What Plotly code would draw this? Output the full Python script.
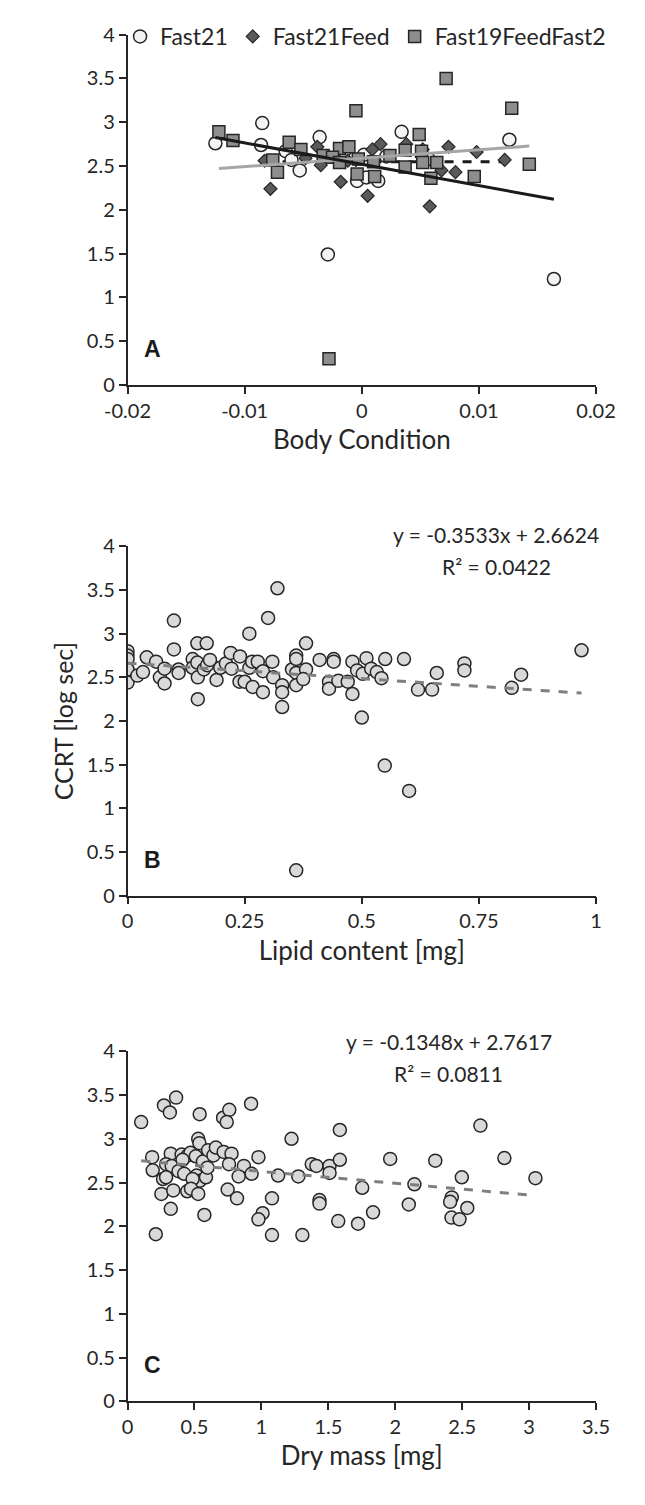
import plotly.graph_objects as go

# ---------------- Panel A data (Body condition vs CCRT) ----------------
fast21_x = [-0.0125, -0.0086, -0.0085, -0.0036, 0.0034, 0.0126, -0.0065, -0.0060, -0.0053,
            -0.0004, 0.0004, 0.0014, -0.0015, 0.0002, 0.0021, 0.0057, -0.0029, 0.0164]
fast21_y = [2.76, 2.74, 2.99, 2.83, 2.89, 2.80, 2.67, 2.57, 2.45,
            2.33, 2.37, 2.33, 2.67, 2.63, 2.61, 2.58, 1.49, 1.21]

feed_x = [-0.0083, -0.0078, -0.0038, -0.0035, -0.0048, -0.0018, 0.0005, 0.0058, 0.0009, 0.0016,
          0.0074, 0.0098, 0.0122, 0.0068, 0.0080, 0.0052, -0.0005, 0.0038, -0.0012]
feed_y = [2.56, 2.24, 2.72, 2.51, 2.59, 2.32, 2.16, 2.04, 2.69, 2.75,
          2.72, 2.66, 2.57, 2.45, 2.43, 2.69, 2.57, 2.75, 2.56]

f19_x = [0.0072, -0.0005, 0.0128, -0.0122, -0.0110, -0.0062, -0.0052, 0.0049, 0.0037, 0.0051,
         -0.0019, -0.0011, -0.0033, -0.0025, -0.0003, 0.0024, -0.0076, -0.0072, -0.0019, -0.0004,
         0.0011, 0.0010, 0.0037, 0.0052, 0.0064, 0.0059, 0.0096, 0.0143, -0.0028]
f19_y = [3.50, 3.13, 3.16, 2.89, 2.79, 2.77, 2.69, 2.86, 2.68, 2.67,
         2.70, 2.72, 2.62, 2.60, 2.58, 2.62, 2.57, 2.43, 2.54, 2.41,
         2.38, 2.55, 2.49, 2.54, 2.54, 2.36, 2.38, 2.52, 0.30]

# trendline coefficients (Fast21, Fast21Feed, Fast19FeedFast2)
trend_a_slope = [-24.4, 0.0, 9.6]
trend_a_intercept = [2.52, 2.55, 2.59]

# ---------------- Panel B data (Lipid content vs CCRT) ----------------
lipid_x = [0, 0, 0, 0, 0, 0.021, 0.033, 0.041, 0.061, 0.069, 0.079, 0.079,
           0.099, 0.099, 0.109, 0.109, 0.139, 0.139, 0.149, 0.149, 0.150, 0.150,
           0.169, 0.163, 0.170, 0.176, 0.190, 0.198, 0.210, 0.220, 0.222, 0.240, 0.239, 0.250,
           0.260, 0.260, 0.266, 0.267, 0.278, 0.289, 0.300, 0.289, 0.309, 0.311, 0.320,
           0.330, 0.330, 0.330, 0.351, 0.360, 0.360, 0.360, 0.360, 0.360,
           0.381, 0.381, 0.375, 0.410, 0.440, 0.440, 0.480, 0.510, 0.550, 0.590,
           0.490, 0.502, 0.520, 0.532, 0.542, 0.430, 0.430, 0.450, 0.470, 0.480,
           0.620, 0.650, 0.660, 0.719, 0.719, 0.820, 0.840, 0.969,
           0.500, 0.549, 0.601]
lipid_y = [2.80, 2.75, 2.71, 2.59, 2.44, 2.52, 2.56, 2.73, 2.68, 2.50, 2.60, 2.43,
           3.15, 2.82, 2.59, 2.55, 2.71, 2.61, 2.89, 2.67, 2.50, 2.25,
           2.89, 2.59, 2.64, 2.70, 2.47, 2.61, 2.66, 2.78, 2.60, 2.74, 2.45, 2.45,
           3.00, 2.61, 2.68, 2.39, 2.68, 2.33, 3.18, 2.57, 2.68, 2.50, 3.52,
           2.41, 2.33, 2.16, 2.59, 2.75, 2.71, 2.55, 2.41, 0.29,
           2.89, 2.59, 2.48, 2.70, 2.71, 2.68, 2.68, 2.72, 2.71, 2.71,
           2.58, 2.54, 2.60, 2.56, 2.49, 2.45, 2.37, 2.46, 2.45, 2.31,
           2.36, 2.36, 2.55, 2.66, 2.58, 2.38, 2.53, 2.81,
           2.04, 1.49, 1.20]
trend_b_slope = -0.3533
trend_b_intercept = 2.6624

# ---------------- Panel C data (Dry mass vs CCRT) ----------------
dry_x = [0.102, 0.272, 0.316, 0.363, 0.539, 0.714, 0.760, 0.741, 0.923,
         0.528, 0.537, 1.225,
         0.184, 0.188, 0.323, 0.404, 0.451, 0.470, 0.510, 0.563, 0.602, 0.642, 0.660, 0.718,
         0.777, 0.758, 0.869, 0.978, 0.927, 0.830,
         0.288, 0.330, 0.381, 0.423, 0.411, 0.516, 0.539, 0.586, 0.597,
         0.265, 0.288, 0.486, 0.253, 0.342, 0.446, 0.474, 0.528, 0.323, 0.574, 0.748, 0.818,
         1.125, 1.276, 1.079, 1.009, 0.978, 0.211, 1.079, 1.306,
         1.586, 2.636, 1.376, 1.411, 1.509, 1.509, 1.586, 1.962, 2.299, 2.815, 1.753, 2.143,
         2.497, 3.047, 1.434, 1.434, 2.101, 2.422, 2.410, 2.538, 2.420, 2.480, 1.834, 1.574, 1.722]
dry_y = [3.19, 3.38, 3.30, 3.47, 3.28, 3.24, 3.33, 3.19, 3.40,
         3.00, 2.95, 3.00,
         2.79, 2.64, 2.83, 2.82, 2.81, 2.84, 2.80, 2.74, 2.87, 2.81, 2.90, 2.85,
         2.83, 2.71, 2.69, 2.79, 2.60, 2.57,
         2.71, 2.69, 2.63, 2.60, 2.76, 2.58, 2.52, 2.56, 2.67,
         2.54, 2.56, 2.54, 2.37, 2.41, 2.40, 2.43, 2.37, 2.20, 2.13, 2.42, 2.32,
         2.58, 2.57, 2.32, 2.15, 2.08, 1.91, 1.90, 1.90,
         3.10, 3.15, 2.71, 2.69, 2.69, 2.61, 2.76, 2.77, 2.75, 2.78, 2.44, 2.48,
         2.56, 2.55, 2.30, 2.26, 2.25, 2.33, 2.28, 2.21, 2.10, 2.08, 2.16, 2.06, 2.03]
trend_c_slope = -0.1348
trend_c_intercept = 2.7617
trend_b_r2 = "0.0422"
trend_c_r2 = "0.0811"

y_ticks = [0, 0.5, 1, 1.5, 2, 2.5, 3, 3.5, 4]
y_tick_text = ["0", "0.5", "1", "1.5", "2", "2.5", "3", "3.5", "4"]
xa_ticks = [-0.02, -0.01, 0, 0.01, 0.02]
xa_tick_text = ["-0.02", "-0.01", "0", "0.01", "0.02"]
xb_ticks = [0, 0.25, 0.5, 0.75, 1]
xb_tick_text = ["0", "0.25", "0.5", "0.75", "1"]
xc_ticks = [0, 0.5, 1, 1.5, 2, 2.5, 3, 3.5]
xc_tick_text = ["0", "0.5", "1", "1.5", "2", "2.5", "3", "3.5"]

W, H = 645, 1505
FONT = "Lato"
DARK = "#262626"


def line_pts(xs, slope, intercept):
    lo, hi = min(xs), max(xs)
    return [lo, hi], [slope * lo + intercept, slope * hi + intercept]


fig = go.Figure()

# --- Panel A: dashed trend for Fast21Feed drawn under markers
lx, ly = line_pts(feed_x, trend_a_slope[1], trend_a_intercept[1])
fig.add_trace(go.Scatter(x=lx, y=ly, mode="lines", showlegend=False, hoverinfo="skip",
                         line=dict(color="#1a1a1a", width=3, dash="dash"),
                         xaxis="x", yaxis="y"))

fig.add_trace(go.Scatter(x=fast21_x, y=fast21_y, mode="markers", name="Fast21",
                         marker=dict(symbol="circle", size=13, color="#f4f4f4",
                                     line=dict(color=DARK, width=1.5)),
                         xaxis="x", yaxis="y"))
fig.add_trace(go.Scatter(x=feed_x, y=feed_y, mode="markers", name="Fast21Feed",
                         marker=dict(symbol="diamond", size=10, color="#5a5a5a",
                                     line=dict(color=DARK, width=1.2)),
                         xaxis="x", yaxis="y"))
fig.add_trace(go.Scatter(x=f19_x, y=f19_y, mode="markers", name="Fast19FeedFast2",
                         marker=dict(symbol="square", size=12, color="#8e8e8e",
                                     line=dict(color=DARK, width=1.5)),
                         xaxis="x", yaxis="y"))

for xs, slope, icpt, col in [(f19_x, trend_a_slope[2], trend_a_intercept[2], "#a6a6a6"),
                             (fast21_x, trend_a_slope[0], trend_a_intercept[0], "#1a1a1a")]:
    lx, ly = line_pts(xs, slope, icpt)
    fig.add_trace(go.Scatter(x=lx, y=ly, mode="lines", showlegend=False, hoverinfo="skip",
                             line=dict(color=col, width=3), xaxis="x", yaxis="y"))

# --- Panel B
fig.add_trace(go.Scatter(x=lipid_x, y=lipid_y, mode="markers", showlegend=False,
                         marker=dict(symbol="circle", size=13, color="#d9d9d9",
                                     line=dict(color=DARK, width=1.5)),
                         xaxis="x2", yaxis="y2"))
lx, ly = line_pts(lipid_x, trend_b_slope, trend_b_intercept)
fig.add_trace(go.Scatter(x=lx, y=ly, mode="lines", showlegend=False, hoverinfo="skip",
                         line=dict(color="#7f7f7f", width=3, dash="dash"),
                         xaxis="x2", yaxis="y2"))

# --- Panel C
fig.add_trace(go.Scatter(x=dry_x, y=dry_y, mode="markers", showlegend=False,
                         marker=dict(symbol="circle", size=13, color="#d9d9d9",
                                     line=dict(color=DARK, width=1.5)),
                         xaxis="x3", yaxis="y3"))
lx, ly = line_pts(dry_x, trend_c_slope, trend_c_intercept)
fig.add_trace(go.Scatter(x=lx, y=ly, mode="lines", showlegend=False, hoverinfo="skip",
                         line=dict(color="#7f7f7f", width=3, dash="dash"),
                         xaxis="x3", yaxis="y3"))

x_dom = [112 / W, 614 / W]
def ydom(top, bottom):
    return [1 - bottom / H, 1 - top / H]

axis_common = dict(showgrid=False, zeroline=False, showline=True, linecolor=DARK, linewidth=1.5,
                   ticks="outside", ticklen=7, tickcolor=DARK, tickwidth=1.5,
                   tickfont=dict(family=FONT, size=20, color="#262626"))

def xaxis(anchor, rng, tv, tt, title):
    d = dict(axis_common)
    d.update(domain=x_dom, anchor=anchor, range=rng, tickvals=tv, ticktext=tt,
             title=dict(text=title, font=dict(family=FONT, size=26, color="#262626"), standoff=10))
    return d

def yaxis(anchor, dom, title=None):
    d = dict(axis_common)
    d.update(domain=dom, anchor=anchor, range=[0, 4], tickvals=y_ticks, ticktext=y_tick_text)
    if title:
        d["title"] = dict(text=title, font=dict(family=FONT, size=25, color="#262626"), standoff=6)
    return d

fig.update_layout(
    width=W, height=H, margin=dict(l=0, r=0, t=0, b=0),
    paper_bgcolor="white", plot_bgcolor="white",
    font=dict(family=FONT, color="#262626"),
    xaxis=xaxis("y", [-0.02, 0.02], xa_ticks, xa_tick_text, "Body Condition"),
    yaxis=yaxis("x", ydom(22, 378)),
    xaxis2=xaxis("y2", [0, 1], xb_ticks, xb_tick_text, "Lipid content [mg]"),
    yaxis2=yaxis("x2", ydom(542, 897), "CCRT [log sec]"),
    xaxis3=xaxis("y3", [0, 3.5], xc_ticks, xc_tick_text, "Dry mass [mg]"),
    yaxis3=yaxis("x3", ydom(1055, 1411)),
    legend=dict(orientation="h", x=104 / W, xanchor="left", y=1 - 2 / H, yanchor="top",
                font=dict(family=FONT, size=23, color="#262626"), itemwidth=30,
                bgcolor="rgba(0,0,0,0)", tracegroupgap=0),
    showlegend=True,
)


def eq_text(slope, intercept):
    return "y = %.4fx + %.4f" % (slope, intercept)


def letter(t, ax):
    return dict(text="<b>%s</b>" % t, x=0.03, y=0.06, xref="%s domain" % ax[0],
                yref="%s domain" % ax[1], xanchor="left", yanchor="bottom", showarrow=False,
                font=dict(family="Liberation Sans", size=23, color="#1a1a1a"))


eq_font = dict(family=FONT, size=21, color="#262626")
annotations = [
    letter("A", ("x", "y")), letter("B", ("x2", "y2")), letter("C", ("x3", "y3")),
    dict(text=eq_text(trend_b_slope, trend_b_intercept), x=507 / W, y=1 - 530 / H,
         xref="paper", yref="paper", xanchor="center", yanchor="middle", showarrow=False, font=eq_font),
    dict(text="R² = " + trend_b_r2, x=507 / W, y=1 - 562 / H,
         xref="paper", yref="paper", xanchor="center", yanchor="middle", showarrow=False, font=eq_font),
    dict(text=eq_text(trend_c_slope, trend_c_intercept), x=456 / W, y=1 - 1045 / H,
         xref="paper", yref="paper", xanchor="center", yanchor="middle", showarrow=False, font=eq_font),
    dict(text="R² = " + trend_c_r2, x=456 / W, y=1 - 1078 / H,
         xref="paper", yref="paper", xanchor="center", yanchor="middle", showarrow=False, font=eq_font),
]
fig.update_layout(annotations=annotations)

fig.write_html("out.html", config={"displayModeBar": False},
               post_script="document.body.style.margin='0px';document.body.style.overflow='hidden';")
